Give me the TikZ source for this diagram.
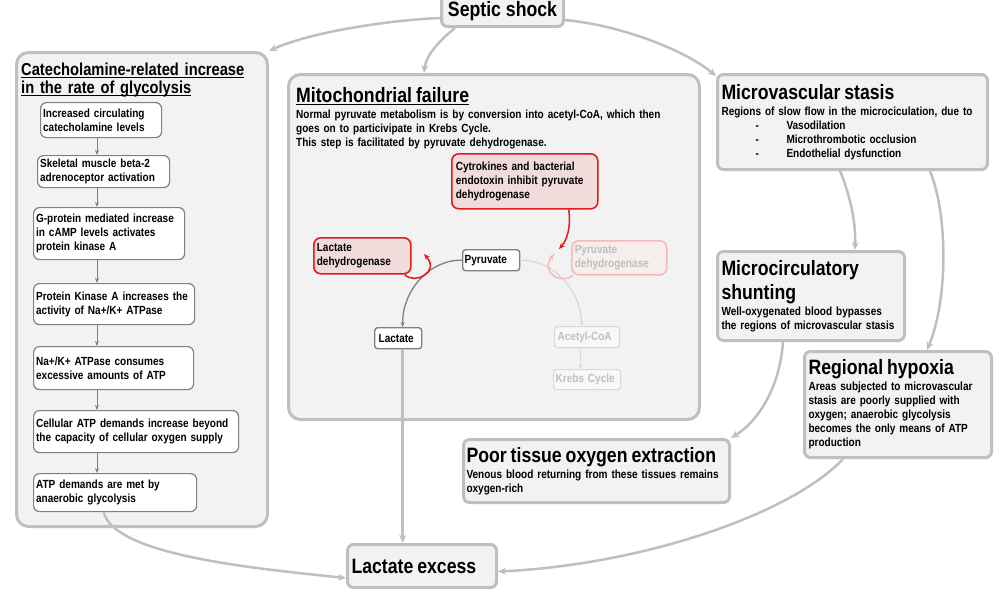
\documentclass[tikz,border=0pt]{standalone}
\usepackage{fontspec}
\setmainfont{Liberation Sans}[FakeStretch=0.85]
\usetikzlibrary{arrows.meta}
\definecolor{panelfill}{HTML}{F2F2F2}
\definecolor{panelline}{HTML}{BFBFBF}
\definecolor{stepline}{HTML}{808080}
\definecolor{redline}{HTML}{E41A1A}
\definecolor{redfill}{HTML}{F2DCDB}
\definecolor{fadeline}{HTML}{D9D9D9}
\definecolor{fadetext}{HTML}{BFBFBF}
\definecolor{pdhline}{HTML}{F4BABA}
\definecolor{pdhfill}{HTML}{F6EDED}
\newcommand\boxtitle[1]{{\fontsize{20.8}{24}\selectfont #1\par}\vspace{2pt}}
\newlength\ulwidth
\newcommand\undl[1]{\leavevmode\settowidth{\ulwidth}{#1}\rlap{\rule[-2.8pt]{\ulwidth}{1.3pt}}#1}
\begin{document}
\begin{tikzpicture}[x=1pt,y=-1pt,line cap=butt,line join=round,font={\fontsize{11.8}{14}\selectfont\bfseries},
	panel/.style={draw=panelline,fill=panelfill,line width=3pt,rounded corners=12pt,anchor=north west,inner sep=0pt},
	infobox/.style={draw=panelline,fill=panelfill,line width=3pt,rounded corners=6pt,anchor=north west,align=left,inner xsep=4pt,inner ysep=0pt},
	stepbox/.style={draw=stepline,fill=white,line width=1.2pt,rounded corners=6pt,anchor=north west,align=left,inner xsep=2.5pt,inner ysep=0pt},
	redbox/.style={draw=redline,fill=redfill,line width=1.6pt,rounded corners=7pt,anchor=north west,align=left,inner xsep=3pt,inner ysep=0pt},
	chembox/.style={draw=stepline,fill=white,line width=1.4pt,rounded corners=3pt,anchor=north west,align=left,inner xsep=3pt,inner ysep=0pt},
	faded/.style={draw=fadeline,fill=white!50!panelfill,text=fadetext,line width=1.2pt},
	label/.style={anchor=north west,inner sep=0pt,align=left},
	link/.style={draw=panelline,line width=2.5pt,-{Stealth[length=8pt,width=7pt,inset=2.5pt]}},
	steparrow/.style={draw=stepline,line width=1pt,-{Stealth[length=5pt,width=4pt]}},
	redarrow/.style={draw=redline,line width=1.5pt,-{Stealth[length=6pt,width=5pt]}}]
\useasboundingbox (0,0) rectangle (1006,592);
% top and bottom
\node[infobox,minimum width=122pt,minimum height=31pt] (ss) at (440,-6) {\fontsize{20.8}{24}\selectfont Septic shock};
\node[infobox,text width=141pt,minimum height=43pt] (lex) at (346,543) {\fontsize{20.8}{24}\selectfont Lactate excess};
% catecholamine panel
\node[panel,minimum width=251pt,minimum height=474pt] (cat) at (15,51) {};
\node[label,text width=240pt,font={\fontsize{17.3}{18}\selectfont\bfseries}] (cat-t) at (21,62.6)
	{\undl{Catecholamine-related increase}\\\undl{in the rate of glycolysis}};
\node[stepbox,text width=116pt,minimum height=35pt] (b1) at (40,102) {Increased circulating\\catecholamine levels};
\node[stepbox,text width=127pt,minimum height=32pt] (b2) at (37,155) {Skeletal muscle beta-2\\adrenoceptor activation};
\node[stepbox,text width=146pt,minimum height=52pt] (b3) at (33,207) {G-protein mediated increase\\in cAMP levels activates\\protein kinase A};
\node[stepbox,text width=156pt,minimum height=41pt] (b4) at (33,283) {Protein Kinase A increases the\\activity of Na+/K+ ATPase};
\node[stepbox,text width=155pt,minimum height=43pt] (b5) at (33,346) {Na+/K+ ATPase consumes\\excessive amounts of ATP};
\node[stepbox,text width=200pt,minimum height=42pt] (b6) at (33,410) {Cellular ATP demands increase beyond\\the capacity of cellular oxygen supply};
\node[stepbox,text width=158pt,minimum height=38pt] (b7) at (33,473) {ATP demands are met by\\anaerobic glycolysis};
\coordinate (ax) at (97,0);
\foreach \a/\b in {b1/b2,b2/b3,b3/b4,b4/b5,b5/b6,b6/b7}
	\draw[steparrow] (\a.south -| ax) -- (\b.north -| ax);
% mitochondrial panel
\node[panel,minimum width=411pt,minimum height=345pt] (mf) at (287,73) {};
\node[label,text width=395pt] (mf-t) at (296,87.1)
	{\boxtitle{\undl{Mitochondrial failure}}Normal pyruvate metabolism is by conversion into acetyl-CoA, which then\\goes on to particivipate in Krebs Cycle.\\This step is facilitated by pyruvate dehydrogenase.};
\node[redbox,inner xsep=4pt,text width=138pt,minimum height=55pt] (cyt) at (451,153) {Cytrokines and bacterial\\endotoxin inhibit pyruvate\\dehydrogenase};
\node[redbox,text width=91pt,minimum height=36pt] (ldh) at (313,237) {Lactate\\dehydrogenase};
\node[redbox,draw=pdhline,fill=pdhfill,text=fadetext,text width=89pt,minimum height=34pt] (pdh) at (571,240) {Pyruvate\\dehydrogenase};
\node[chembox,inner xsep=2pt,text width=53pt,minimum height=21pt] (pyr) at (462,249) {Pyruvate};
\node[chembox,inner xsep=4pt,text width=39pt,minimum height=21pt] (lac) at (374,327) {Lactate};
\node[chembox,faded,text width=59pt,minimum height=21pt] (acc) at (554,326) {Acetyl-CoA};
\node[chembox,faded,inner xsep=2pt,text width=63pt,minimum height=20pt] (krb) at (553,369) {Krebs Cycle};
\coordinate (lcurl) at (424,254);
\coordinate (pcurl) at (554,254);
\coordinate (blk) at (559,249);
\draw[steparrow,line width=1.3pt] (pyr.west) .. controls (429,259.5) and (402,291) .. ([xshift=4.5pt]lac.north);
\draw[steparrow,draw=fadeline,line width=1.3pt] (pyr.east) .. controls (554,259.5) and (581,291) .. ([xshift=-5.5pt]acc.north);
\draw[steparrow,draw=fadeline] ([xshift=-6.5pt]acc.south) -- ([xshift=-6.5pt]krb.north);
\draw[redarrow] ([xshift=-7pt]ldh.south east) .. controls (415,285) and (440,272) .. (lcurl);
\draw[redarrow,draw=pdhline] ([xshift=2pt]pdh.south west) .. controls (560,285) and (540,272) .. (pcurl);
\draw[redarrow] ([xshift=44pt]cyt.south) .. controls (571,228) and (567,240) .. (blk);
% right column
\node[infobox,text width=262pt,minimum height=95pt] (mvs) at (716,73)
	{\boxtitle{Microvascular stasis}Regions of slow flow in the microciculation, due to\\
	\hspace*{34pt}\makebox[31pt][l]{-}Vasodilation\\
	\hspace*{34pt}\makebox[31pt][l]{-}Microthrombotic occlusion\\
	\hspace*{34pt}\makebox[31pt][l]{-}Endothelial dysfunction};
\node[infobox,text width=179pt,minimum height=89pt] (mcs) at (716,250)
	{\boxtitle{Microcirculatory\\shunting}Well-oxygenated blood bypasses\\the regions of microvascular stasis};
\node[infobox,text width=179pt,minimum height=106pt] (rhx) at (803,350)
	{\boxtitle{Regional hypoxia}Areas subjected to microvascular\\stasis are poorly supplied with\\oxygen; anaerobic glycolysis\\becomes the only means of ATP\\production};
\node[infobox,inner xsep=3pt,text width=260pt,minimum height=63pt] (pto) at (462,438)
	{\boxtitle{Poor tissue oxygen extraction}Venous blood returning from these tissues remains\\oxygen-rich};
% connectors
\draw[link] ([yshift=-7pt]ss.west) .. controls (390,20) and (310,32) .. (cat.north east);
\draw[link] ([xshift=15pt]ss.south west) .. controls (440,40) and (426,55) .. ([xshift=137pt]mf.north west);
\draw[link] ([yshift=-9pt]ss.east) .. controls (620,25) and (685,50) .. ([yshift=-3pt]mvs.north west);
\draw[link] ([xshift=124pt]mvs.south west) .. controls (850,195) and (856,222) .. ([xshift=139pt]mcs.north west);
\draw[link] ([xshift=214pt]mvs.south west) .. controls (948,215) and (948,300) .. ([xshift=124pt]rhx.north west);
\draw[link] ([xshift=67pt]mcs.south west) .. controls (780,385) and (760,420) .. (pto.north east);
\draw[link] ([xshift=40pt]rhx.south west) .. controls (790,515) and (640,565) .. ([yshift=-5.5pt]lex.east);
\draw[link] ([xshift=-11.5pt]b7.south) .. controls (115,555) and (250,568) .. ([yshift=-12pt]lex.west);
\draw[link] ([xshift=4.5pt]lac.south) -- ([xshift=4.5pt]lac.south |- lex.north);
\end{tikzpicture}
\end{document}
